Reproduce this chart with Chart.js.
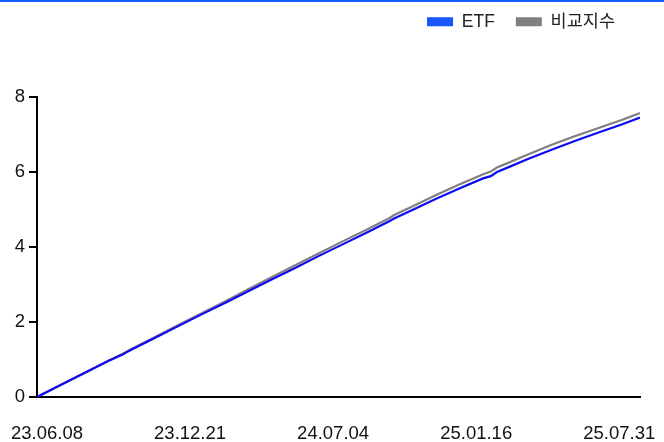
<!DOCTYPE html>
<html>
<head>
<meta charset="utf-8">
<script src="https://cdn.jsdelivr.net/npm/chart.js@4"></script>
<style>
  html, body { margin: 0; padding: 0; background: #fff; }
  #wrap { position: relative; width: 664px; height: 442px; }
  #topline { position: absolute; left: 0; top: 0; width: 664px; height: 2px; background: #1a5cff; }
</style>
</head>
<body>
<div id="wrap">
  <canvas id="chart" width="664" height="442"></canvas>
  <div id="topline"></div>
</div>
<script>
// Data
const dates = [
    '2023-06-08', '2023-07-08', '2023-08-08', '2023-09-08', '2023-09-28', '2023-10-03',
    '2023-10-08', '2023-11-08', '2023-12-08', '2024-01-08', '2024-02-08', '2024-03-08',
    '2024-04-08', '2024-05-08', '2024-06-08', '2024-07-08', '2024-08-08', '2024-09-08',
    '2024-09-15', '2024-10-08', '2024-11-08', '2024-12-08', '2025-01-08', '2025-01-18',
    '2025-01-26', '2025-02-08', '2025-03-08', '2025-04-08', '2025-05-08', '2025-06-08',
    '2025-07-08', '2025-07-31'
];
const etfValues = [
    0, 0.31, 0.63, 0.95, 1.14, 1.20,
    1.25, 1.57, 1.88, 2.20, 2.51, 2.81,
    3.13, 3.43, 3.75, 4.05, 4.36, 4.68,
    4.76, 4.98, 5.28, 5.55, 5.82, 5.88,
    5.99, 6.10, 6.34, 6.59, 6.82, 7.05,
    7.26, 7.44
];
const indexValues = [
    0, 0.31, 0.63, 0.96, 1.16, 1.21,
    1.27, 1.59, 1.91, 2.23, 2.55, 2.86,
    3.19, 3.50, 3.82, 4.13, 4.44, 4.76,
    4.85, 5.07, 5.38, 5.66, 5.93, 6.00,
    6.11, 6.22, 6.46, 6.72, 6.95, 7.17,
    7.38, 7.56
];
const seriesNames = ['ETF', '비교지수'];
const xTickLabels = ['23.06.08', '23.12.21', '24.07.04', '25.01.16', '25.07.31'];
const yTicks = [0, 2, 4, 6, 8];

// label spots along the day axis (the reference spaces them a bit tighter than the data)
const xTickDays = [13, 199, 385, 571, 757];

const lineColors = ['#0b0bf5', '#808080'];
const legendColors = ['#1a55ff', '#808080'];
const fontFamily = '"Liberation Sans", Arial, "Noto Sans CJK KR", sans-serif';

const startMs = Date.parse(dates[0]);
const dayOf = d => Math.round((Date.parse(d) - startMs) / 86400000);
const toPoints = vals => dates.map((d, i) => ({ x: dayOf(d), y: vals[i] }));
const lastDay = dayOf(dates[dates.length - 1]);

// nudge the legend up/left so its wide item gap doesn't push it around
const legendShift = {
    id: 'legendShift',
    afterLayout(chart) {
        const lg = chart.legend;
        lg.left -= 4;
        lg.right -= 4;
        lg.top -= 8;
        lg.bottom -= 8;
    }
};

new Chart(document.getElementById('chart'), {
    type: 'line',
    data: {
        datasets: [
            {
                label: seriesNames[0],
                data: toPoints(etfValues),
                borderColor: lineColors[0],
                backgroundColor: lineColors[0],
                borderWidth: 2.2,
                pointRadius: 0,
                tension: 0
            },
            {
                label: seriesNames[1],
                data: toPoints(indexValues),
                borderColor: lineColors[1],
                backgroundColor: lineColors[1],
                borderWidth: 2.2,
                pointRadius: 0,
                tension: 0
            }
        ]
    },
    options: {
        responsive: false,
        animation: false,
        layout: { padding: { top: 0, right: 24, bottom: 0, left: 0 } },
        plugins: {
            legend: {
                position: 'top',
                align: 'end',
                labels: {
                    boxWidth: 26,
                    boxHeight: 9,
                    padding: 21,
                    color: '#222',
                    font: { family: fontFamily, size: 17.5 },
                    generateLabels: chart => chart.data.datasets.map((ds, i) => ({
                        text: ds.label,
                        fillStyle: legendColors[i],
                        strokeStyle: legendColors[i],
                        lineWidth: 0,
                        hidden: false,
                        datasetIndex: i,
                        fontColor: '#222'
                    }))
                }
            },
            tooltip: { enabled: false }
        },
        scales: {
            x: {
                type: 'linear',
                min: 0,
                max: lastDay,
                afterBuildTicks: s => { s.ticks = xTickDays.map(v => ({ value: v })); },
                afterFit: s => { s.height = 45; },
                // tick marks hidden, their length only pushes the labels down
                grid: { display: false, drawTicks: true, tickLength: 25.5 },
                border: { display: true, color: '#000', width: 2 },
                ticks: {
                    autoSkip: false,
                    maxRotation: 0,
                    padding: 0,
                    color: '#111',
                    font: { family: fontFamily, size: 18.5 },
                    callback: (v, i) => xTickLabels[i]
                }
            },
            y: {
                min: 0,
                max: 8,
                afterBuildTicks: s => { s.ticks = yTicks.map(v => ({ value: v })); },
                afterFit: s => { s.width = 37; },
                grid: { drawOnChartArea: false, drawTicks: true, tickLength: 8, color: '#000', lineWidth: 2 },
                border: { display: true, color: '#000', width: 2 },
                ticks: {
                    padding: 4,
                    color: '#111',
                    font: { family: fontFamily, size: 18.5 }
                }
            },
            spacer: {
                type: 'linear',
                position: 'top',
                display: true,
                afterFit: s => { s.height = 48; },
                grid: { display: false, drawTicks: false },
                border: { display: false },
                ticks: { display: false }
            }
        }
    },
    plugins: [legendShift]
});
</script>
</body>
</html>
